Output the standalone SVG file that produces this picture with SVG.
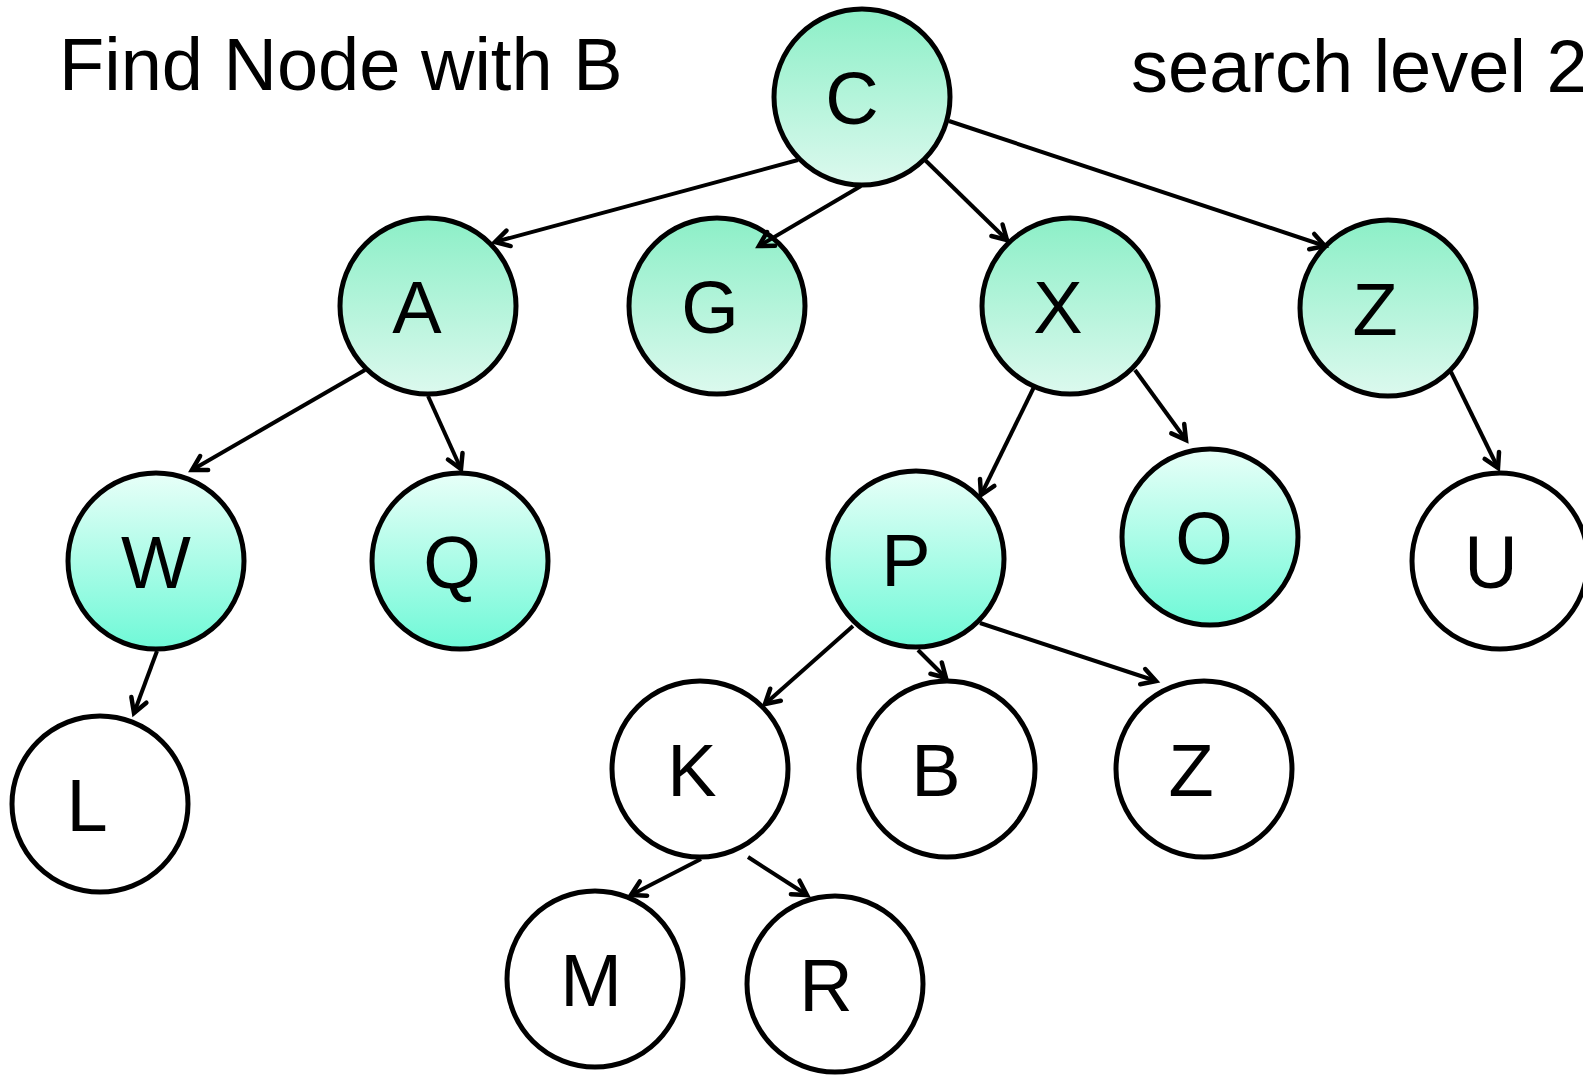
<svg xmlns="http://www.w3.org/2000/svg" width="1583" height="1077" viewBox="0 0 1583 1077">
<style>
.n{stroke:#000;stroke-width:5}
.w{fill:#fff}
.g1{fill:url(#gA)}
.g2{fill:url(#gB)}
text{font-family:"Liberation Sans",Arial,sans-serif;fill:#000}
.lab{font-size:74px;text-anchor:middle}
.t{font-size:74px}
.e{stroke:#000;stroke-width:4;fill:none;marker-end:url(#ah)}
</style>
<defs>
<linearGradient id="gA" x1="0" y1="0" x2="0" y2="1">
<stop offset="0" stop-color="#8cefc7"/>
<stop offset="1" stop-color="#dcf9ee"/>
</linearGradient>
<linearGradient id="gB" x1="0" y1="0" x2="0" y2="1">
<stop offset="0" stop-color="#e8fff8"/>
<stop offset="1" stop-color="#6ff9d7"/>
</linearGradient>
<marker id="ah" markerUnits="userSpaceOnUse" markerWidth="30" markerHeight="30" refX="0" refY="0" viewBox="-20 -15 30 30" orient="auto">
<path d="M-14,-8 L0,0 L-14,8" fill="none" stroke="#000" stroke-width="4.5" stroke-linecap="round" stroke-linejoin="miter"/>
</marker>
</defs>
<rect width="1583" height="1077" fill="#fff"/>
<text class="t" x="59" y="90">Find Node with B</text>
<text class="t" x="1131" y="92">search level 2</text>
<g id="nC"><circle class="n g1" cx="862" cy="97" r="88"/><text class="lab" x="852" y="124">C</text></g>
<g id="nA"><circle class="n g1" cx="428" cy="306" r="88"/><text class="lab" x="417" y="333">A</text></g>
<g id="nG"><circle class="n g1" cx="717" cy="306" r="88"/><text class="lab" x="710" y="333">G</text></g>
<g id="nX"><circle class="n g1" cx="1070" cy="306" r="88"/><text class="lab" x="1058" y="333">X</text></g>
<g id="nZ1"><circle class="n g1" cx="1388" cy="308" r="88"/><text class="lab" x="1375" y="335">Z</text></g>
<g id="nW"><circle class="n g2" cx="156" cy="561" r="88"/><text class="lab" x="156" y="588">W</text></g>
<g id="nQ"><circle class="n g2" cx="460" cy="561" r="88"/><text class="lab" x="452" y="588">Q</text></g>
<g id="nP"><circle class="n g2" cx="916" cy="559" r="88"/><text class="lab" x="906" y="586">P</text></g>
<g id="nO"><circle class="n g2" cx="1210" cy="537" r="88"/><text class="lab" x="1204" y="564">O</text></g>
<g id="nU"><circle class="n w" cx="1500" cy="561" r="88"/><text class="lab" x="1491" y="588">U</text></g>
<g id="nL"><circle class="n w" cx="100" cy="804" r="88"/><text class="lab" x="87" y="831">L</text></g>
<g id="nK"><circle class="n w" cx="700" cy="769" r="88"/><text class="lab" x="692" y="796">K</text></g>
<g id="nB"><circle class="n w" cx="947" cy="769" r="88"/><text class="lab" x="936" y="796">B</text></g>
<g id="nZ2"><circle class="n w" cx="1204" cy="769" r="88"/><text class="lab" x="1191" y="796">Z</text></g>
<g id="nM"><circle class="n w" cx="595" cy="979" r="88"/><text class="lab" x="591" y="1006">M</text></g>
<g id="nR"><circle class="n w" cx="835" cy="984" r="88"/><text class="lab" x="826" y="1011">R</text></g>
<g id="edges">
<line class="e" x1="798" y1="160" x2="495" y2="242"/>
<line class="e" x1="861" y1="186" x2="759" y2="246"/>
<line class="e" x1="925" y1="160" x2="1007" y2="240"/>
<line class="e" x1="949" y1="121" x2="1325" y2="246"/>
<line class="e" x1="365" y1="370" x2="192" y2="470"/>
<line class="e" x1="428" y1="396" x2="461" y2="469"/>
<line class="e" x1="157" y1="651" x2="134" y2="713"/>
<line class="e" x1="1034" y1="387" x2="981" y2="495"/>
<line class="e" x1="1135" y1="370" x2="1186" y2="440"/>
<line class="e" x1="1451" y1="372" x2="1498" y2="468"/>
<line class="e" x1="853" y1="626" x2="765" y2="704"/>
<line class="e" x1="918" y1="650" x2="946" y2="678"/>
<line class="e" x1="980" y1="623" x2="1156" y2="681"/>
<line class="e" x1="701" y1="859" x2="631" y2="895"/>
<line class="e" x1="748" y1="857" x2="807" y2="895"/>
</g>
</svg>
